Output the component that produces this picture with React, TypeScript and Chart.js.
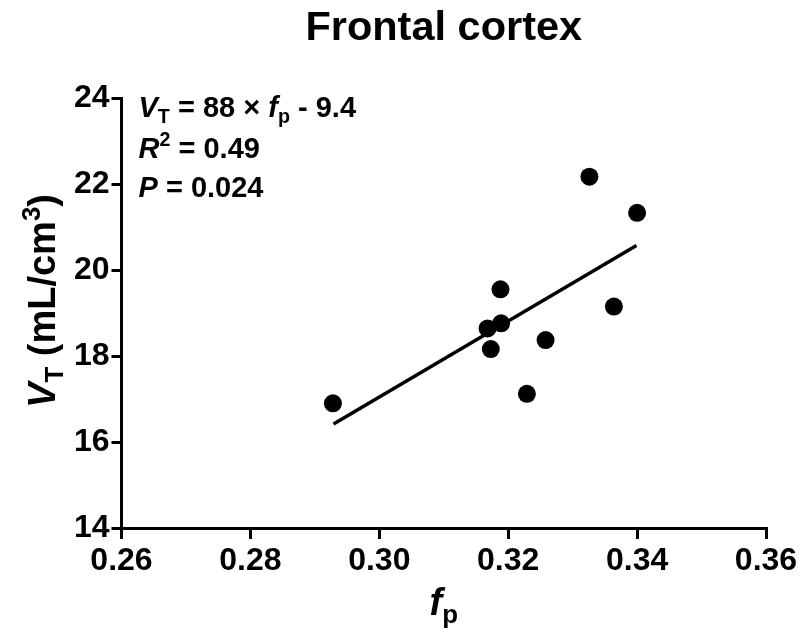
import React, { useEffect, useRef } from "react";
import { Chart, registerables } from "chart.js";

Chart.register(...registerables);

const titleText = "Frontal cortex";
const fpValues = [0.2928, 0.3326, 0.34, 0.3188, 0.3168, 0.3189, 0.3173, 0.3258, 0.3364, 0.3229];
const vtValues = [16.9, 22.17, 21.33, 19.55, 18.64, 18.76, 18.16, 18.37, 19.15, 17.12];
const fitX = [0.2929, 0.3399];
const fitY = [16.42, 20.57];
const xTickValues = [0.26, 0.28, 0.3, 0.32, 0.34, 0.36];
const yTickValues = [14, 16, 18, 20, 22, 24];

type Run = { t: string; i?: boolean; sub?: boolean; sup?: boolean };

const annotationLines: Run[][] = [
  [{ t: "V", i: true }, { t: "T", sub: true }, { t: " = 88 × " }, { t: "f", i: true }, { t: "p", sub: true }, { t: " - 9.4" }],
  [{ t: "R", i: true }, { t: "2", sup: true }, { t: " = 0.49" }],
  [{ t: "P", i: true }, { t: " = 0.024" }],
];
const yTitleRuns: Run[] = [{ t: "V", i: true }, { t: "T", sub: true }, { t: " (mL/cm" }, { t: "3", sup: true }, { t: ")" }];
const xTitleRuns: Run[] = [{ t: "f", i: true }, { t: "p", sub: true }];

const FONT = "Arial, 'Liberation Sans', Helvetica, sans-serif";

function drawRuns(ctx: CanvasRenderingContext2D, runs: Run[], x: number, y: number, size: number, align: "left" | "center") {
  const parts = runs.map((r) => {
    const s = r.sub || r.sup ? size * 0.68 : size;
    const font = `${r.i ? "italic " : ""}bold ${s}px ${FONT}`;
    ctx.font = font;
    return { r, font, w: ctx.measureText(r.t).width };
  });
  const total = parts.reduce((a, p) => a + p.w, 0);
  let cx = align === "center" ? x - total / 2 : x;
  ctx.textBaseline = "alphabetic";
  ctx.textAlign = "left";
  for (const p of parts) {
    ctx.font = p.font;
    const dy = p.r.sub ? size * 0.22 : p.r.sup ? -size * 0.4 : 0;
    ctx.fillText(p.r.t, cx, y + dy);
    cx += p.w;
  }
}

const textPlugin = {
  id: "richText",
  afterDraw(chart: any) {
    const ctx: CanvasRenderingContext2D = chart.ctx;
    const a = chart.chartArea;
    ctx.save();
    ctx.fillStyle = "#000";
    ctx.font = `bold 41.5px ${FONT}`;
    ctx.textAlign = "center";
    ctx.textBaseline = "alphabetic";
    ctx.fillText(titleText, (a.left + a.right) / 2, 40);
    const baselines = [117, 158, 197];
    annotationLines.forEach((runs, k) => drawRuns(ctx, runs, a.left + 17, baselines[k], 29, "left"));
    drawRuns(ctx, xTitleRuns, (a.left + a.right) / 2, 615, 38, "center");
    ctx.save();
    ctx.translate(55, 301);
    ctx.rotate(-Math.PI / 2);
    drawRuns(ctx, yTitleRuns, 0, 0, 38, "center");
    ctx.restore();
    ctx.restore();
  },
};

export default function App() {
  const ref = useRef<HTMLCanvasElement>(null);
  useEffect(() => {
    if (!ref.current) return;
    const chart = new Chart(ref.current, {
      type: "scatter",
      data: {
        datasets: [
          {
            type: "line",
            data: fitX.map((x, i) => ({ x, y: fitY[i] })),
            borderColor: "#000",
            borderWidth: 3.5,
            pointRadius: 0,
            fill: false,
          } as any,
          {
            data: fpValues.map((x, i) => ({ x, y: vtValues[i] })),
            backgroundColor: "#000",
            borderColor: "#000",
            pointRadius: 9,
            pointBorderWidth: 0,
          },
        ],
      },
      options: {
        responsive: false,
        animation: false,
        devicePixelRatio: 1,
        layout: { padding: { left: 0, right: 39, top: 98, bottom: 0 } },
        plugins: { legend: { display: false }, tooltip: { enabled: false } },
        scales: {
          x: {
            type: "linear",
            min: 0.26,
            max: 0.36,
            afterBuildTicks: (s: any) => {
              s.ticks = xTickValues.map((v) => ({ value: v }));
            },
            afterFit: (s: any) => {
              s.height = 116;
            },
            ticks: {
              color: "#000",
              font: { family: FONT, size: 32, weight: "bold" },
              padding: 3,
              maxRotation: 0,
              autoSkip: false,
              callback: (v: any) => Number(v).toFixed(2),
            },
            grid: { drawOnChartArea: false, color: "#000", lineWidth: 3, tickLength: 11, tickWidth: 3 },
            border: { color: "#000", width: 3 },
          },
          y: {
            type: "linear",
            min: 14,
            max: 24,
            afterBuildTicks: (s: any) => {
              s.ticks = yTickValues.map((v) => ({ value: v }));
            },
            afterFit: (s: any) => {
              s.width = 121.5;
            },
            ticks: {
              color: "#000",
              font: { family: FONT, size: 32, weight: "bold" },
              padding: 2,
              autoSkip: false,
              callback: (v: any) => String(v),
            },
            grid: { drawOnChartArea: false, color: "#000", lineWidth: 3, tickLength: 10, tickWidth: 3 },
            border: { color: "#000", width: 3 },
          },
        },
      },
      plugins: [textPlugin],
    } as any);
    return () => chart.destroy();
  }, []);
  return (
    <div style={{ position: "absolute", left: 0, top: 0, width: 805, height: 644, background: "#fff" }}>
      <canvas ref={ref} width={805} height={644} style={{ display: "block" }} />
    </div>
  );
}
